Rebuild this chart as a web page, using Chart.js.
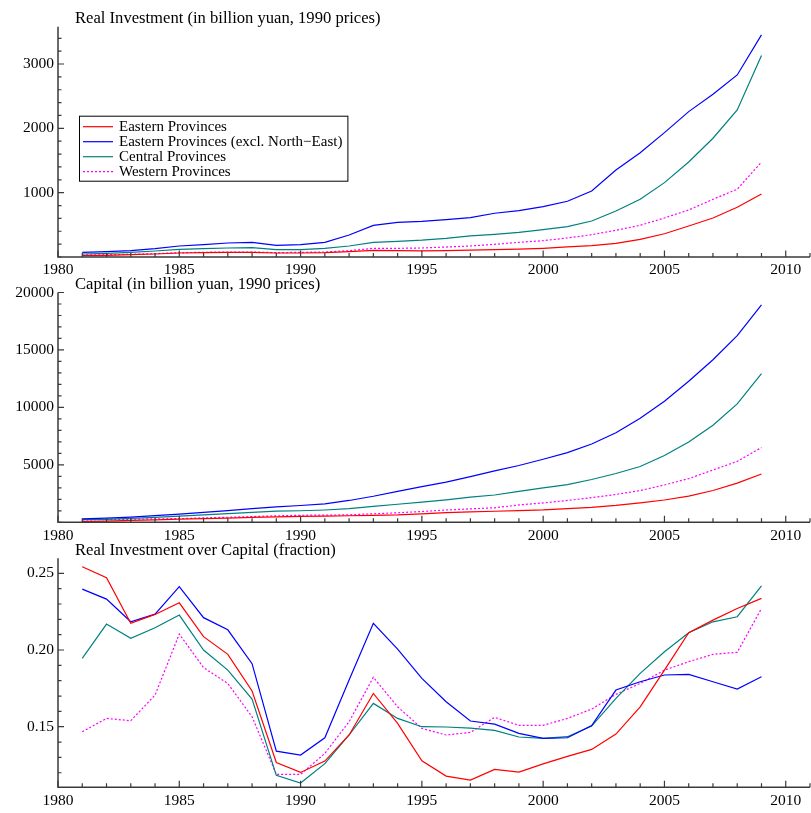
<!DOCTYPE html>
<html>
<head>
<meta charset="utf-8">
<script src="https://cdn.jsdelivr.net/npm/chart.js@4/dist/chart.umd.min.js"></script>
<style>
  html, body { margin: 0; padding: 0; background: #ffffff; }
  #wrap { position: relative; width: 811px; height: 813px; }
  #wrap canvas { position: absolute; left: 0; top: 0; }
</style>
</head>
<body>
<div id="wrap">
  <canvas id="invest" width="811" height="813"></canvas>
  <canvas id="capital" width="811" height="813"></canvas>
  <canvas id="ratio" width="811" height="813"></canvas>
</div>
<script>
// Years covered by every series
const years = [1981,1982,1983,1984,1985,1986,1987,1988,1989,1990,1991,1992,1993,1994,1995,
               1996,1997,1998,1999,2000,2001,2002,2003,2004,2005,2006,2007,2008,2009];

const seriesNames = [
  'Eastern Provinces',
  'Eastern Provinces (excl. North\u2212East)',
  'Central Provinces',
  'Western Provinces'
];

// Real investment, billion yuan at 1990 prices
const investEast     = [21,26,36,47,62,67,73,73,62,62,67,83,104,98,95,100,106,115,122,135,156,176,213,275,362,482,607,773,980];
const investEastExNE = [73,83,98,130,171,192,218,228,181,192,228,342,492,539,555,580,611,680,720,782,866,1026,1353,1622,1933,2260,2530,2830,3452];
const investCentral  = [47,57,73,93,119,130,140,145,114,114,135,171,228,244,262,290,327,352,383,425,471,560,715,897,1156,1477,1846,2286,3131];
const investWest     = [31,36,41,52,67,73,78,78,67,73,78,98,135,135,140,155,171,197,228,254,295,347,415,493,607,731,897,1053,1477];

// Capital stock, billion yuan at 1990 prices
const capitalEast     = [83,105,160,210,268,320,370,420,480,515,530,570,610,650,740,845,915,960,1015,1075,1190,1300,1465,1685,1940,2285,2770,3410,4200];
const capitalEastExNE = [300,355,445,580,705,865,1020,1190,1350,1460,1600,1900,2265,2690,3110,3500,3980,4480,4940,5490,6060,6810,7800,9060,10530,12280,14150,16250,18930];
const capitalCentral  = [242,263,350,434,534,650,749,863,964,1004,1072,1183,1380,1570,1750,1960,2195,2375,2690,2990,3285,3725,4245,4855,5815,6990,8455,10310,12950];
const capitalWest     = [211,232,266,305,318,387,438,498,563,614,620,650,740,830,940,1070,1170,1262,1510,1685,1900,2150,2425,2765,3250,3800,4550,5305,6500];

// Real investment over capital (fraction)
const ratioEast     = [0.2543,0.2471,0.2174,0.2232,0.2308,0.2087,0.1972,0.1733,0.1267,0.1202,0.1276,0.1446,0.1717,0.1522,0.1278,0.1178,0.1152,0.1222,0.1204,0.1258,0.1307,0.1352,0.1452,0.1630,0.1869,0.2113,0.2195,0.2271,0.2337];
const ratioEastExNE = [0.2397,0.2332,0.2184,0.2234,0.2413,0.2211,0.2132,0.1911,0.1341,0.1315,0.1428,0.1804,0.2174,0.2006,0.1815,0.1663,0.1537,0.1517,0.1457,0.1424,0.1428,0.1507,0.1739,0.1793,0.1837,0.1841,0.1793,0.1746,0.1826];
const ratioCentral  = [0.1945,0.2169,0.2076,0.2145,0.2228,0.2000,0.1869,0.1680,0.1183,0.1133,0.1259,0.1446,0.1652,0.1554,0.1500,0.1498,0.1491,0.1476,0.1433,0.1424,0.1435,0.1504,0.1685,0.1848,0.1989,0.2113,0.2184,0.2217,0.2419];
const ratioWest     = [0.1467,0.1554,0.1539,0.1706,0.2104,0.1885,0.1782,0.1565,0.1189,0.1189,0.1326,0.1533,0.1822,0.1630,0.1489,0.1446,0.1463,0.1561,0.1509,0.1509,0.1554,0.1615,0.1711,0.1782,0.1869,0.1924,0.1972,0.1985,0.2271];

// Axis tick labels
const yearTicks    = [1980,1985,1990,1995,2000,2005,2010];
const investTicks  = [1000,2000,3000];
const capitalTicks = [5000,10000,15000,20000];
const ratioTicks   = [0.15,0.20,0.25];

const SERIF = '"Liberation Serif", "DejaVu Serif", serif';
const lineStyles = [
  { color: '#ff0000', dash: [] },
  { color: '#0000ff', dash: [] },
  { color: '#008080', dash: [] },
  { color: '#ff00ff', dash: [2, 2] }
];

function buildDatasets(seriesList) {
  return seriesList.map((values, i) => ({
    label: seriesNames[i],
    data: years.map((yr, k) => ({ x: yr, y: values[k] })),
    borderColor: lineStyles[i].color,
    borderDash: lineStyles[i].dash,
    borderWidth: 1.2,
    pointRadius: 0,
    tension: 0,
    fill: false
  }));
}

// Axis lines, inward tick marks, panel title and optional boxed legend
const panelDecor = {
  id: 'panelDecor',
  afterDraw(chart, args, opts) {
    const ctx = chart.ctx;
    const a = chart.chartArea;
    const xs = chart.scales.x, ys = chart.scales.y;
    ctx.save();
    ctx.strokeStyle = '#3a3a3a';
    ctx.lineWidth = 1.5;
    ctx.beginPath();
    ctx.moveTo(a.left, a.top);
    ctx.lineTo(a.left, a.bottom);
    ctx.lineTo(a.right, a.bottom);
    ctx.stroke();

    ctx.lineWidth = 1.2;
    ctx.beginPath();
    for (let yr = Math.ceil(xs.min); yr <= xs.max; yr++) {
      const px = xs.getPixelForValue(yr);
      const len = yr % 5 === 0 ? 6.5 : 4;
      ctx.moveTo(px, a.bottom);
      ctx.lineTo(px, a.bottom - len);
    }
    const step = opts.minorStep;
    const first = Math.ceil(ys.min / step - 1e-9);
    const last = Math.floor(ys.max / step + 1e-9);
    for (let k = first; k <= last; k++) {
      const v = k * step;
      const major = opts.majorTicks.some(t => Math.abs(t - v) < step / 10);
      const py = ys.getPixelForValue(v);
      ctx.moveTo(a.left, py);
      ctx.lineTo(a.left + (major ? 6 : 3.5), py);
    }
    ctx.stroke();

    ctx.fillStyle = '#000';
    ctx.font = '16.6px ' + SERIF;
    ctx.textBaseline = 'alphabetic';
    ctx.textAlign = 'left';
    ctx.fillText(opts.title, a.left + 17, a.top - 3.5);

    if (opts.legend) {
      ctx.font = '15px ' + SERIF;
      const bx = a.left + 21, by = a.top + 89;
      const rowH = 15;
      const textX = bx + 40;
      let maxW = 0;
      chart.data.datasets.forEach(d => { maxW = Math.max(maxW, ctx.measureText(d.label).width); });
      const bw = textX - bx + maxW + 5;
      const bh = rowH * chart.data.datasets.length + 5;
      ctx.fillStyle = '#fff';
      ctx.fillRect(bx, by, bw, bh);
      ctx.strokeStyle = '#000';
      ctx.lineWidth = 1;
      ctx.strokeRect(bx + 0.5, by + 0.5, bw, bh);
      chart.data.datasets.forEach((d, i) => {
        const cy = by + 11 + i * rowH;
        ctx.strokeStyle = d.borderColor;
        ctx.setLineDash(d.borderDash || []);
        ctx.lineWidth = 1.2;
        ctx.beginPath();
        ctx.moveTo(bx + 4, cy);
        ctx.lineTo(bx + 34, cy);
        ctx.stroke();
        ctx.setLineDash([]);
        ctx.fillStyle = '#000';
        ctx.textBaseline = 'middle';
        ctx.fillText(d.label, textX, cy);
      });
    }
    ctx.restore();
  }
};

function makePanel(canvasId, seriesList, cfg) {
  return new Chart(document.getElementById(canvasId), {
    type: 'line',
    data: { datasets: buildDatasets(seriesList) },
    plugins: [panelDecor],
    options: {
      responsive: false,
      animation: false,
      events: [],
      layout: { padding: { top: cfg.top, bottom: 813 - cfg.bottom - 22, left: 0, right: 1 } },
      plugins: {
        legend: { display: false },
        title: { display: false },
        tooltip: { enabled: false },
        panelDecor: { title: cfg.title, minorStep: cfg.minorStep, majorTicks: cfg.yTicks, legend: cfg.legend }
      },
      scales: {
        x: {
          type: 'linear',
          min: 1980,
          max: 2011,
          grid: { display: false, drawTicks: false },
          border: { display: false },
          afterBuildTicks: s => { s.ticks = yearTicks.map(v => ({ value: v })); },
          afterFit: s => { s.height = 22; },
          ticks: {
            autoSkip: false, maxRotation: 0, padding: 4, color: '#000',
            font: { family: SERIF, size: 15.5 },
            callback: v => String(v)
          }
        },
        y: {
          type: 'linear',
          min: cfg.yMin,
          max: cfg.yMax,
          grid: { display: false, drawTicks: false },
          border: { display: false },
          afterBuildTicks: s => { s.ticks = cfg.yTicks.map(v => ({ value: v })); },
          afterFit: s => { s.width = 58; },
          ticks: {
            autoSkip: false, padding: 4, color: '#000',
            font: { family: SERIF, size: 15.5 },
            callback: cfg.format
          }
        }
      }
    }
  });
}

makePanel('invest', [investEast, investEastExNE, investCentral, investWest], {
  title: 'Real Investment (in billion yuan, 1990 prices)',
  top: 26.7, bottom: 257, yMin: 0, yMax: 3580, yTicks: investTicks, minorStep: 200,
  legend: true, format: v => String(v)
});
makePanel('capital', [capitalEast, capitalEastExNE, capitalCentral, capitalWest], {
  title: 'Capital (in billion yuan, 1990 prices)',
  top: 292.5, bottom: 522.3, yMin: 0, yMax: 20000, yTicks: capitalTicks, minorStep: 1000,
  legend: false, format: v => String(v)
});
makePanel('ratio', [ratioEast, ratioEastExNE, ratioCentral, ratioWest], {
  title: 'Real Investment over Capital (fraction)',
  top: 558.3, bottom: 787.3, yMin: 0.1105, yMax: 0.2598, yTicks: ratioTicks, minorStep: 0.01,
  legend: false, format: v => Number(v).toFixed(2)
});
</script>
</body>
</html>
